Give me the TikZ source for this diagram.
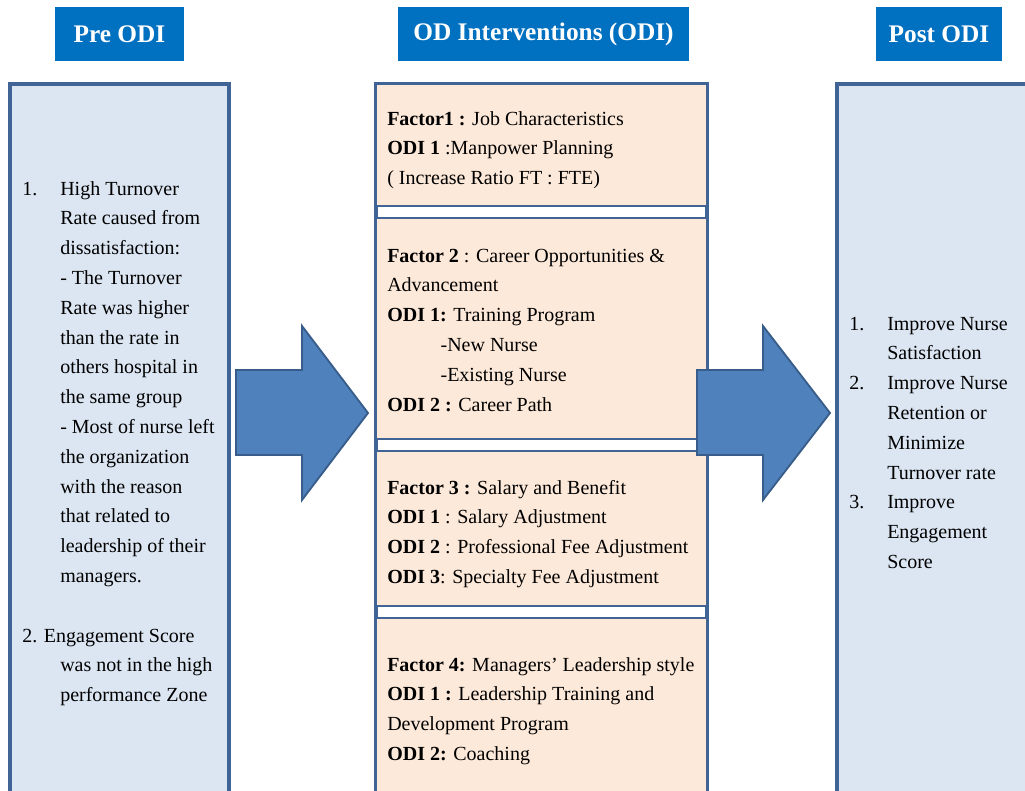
\documentclass[tikz,border=0pt]{standalone}
\usepackage{fontspec}
\setmainfont{Liberation Serif}
\usetikzlibrary{positioning}
\definecolor{headblue}{RGB}{0, 112, 192}
\definecolor{paleblue}{RGB}{220, 230, 242}
\definecolor{edgeblue}{RGB}{65, 100, 150}
\definecolor{peach}{RGB}{253, 233, 217}
\definecolor{arrowblue}{RGB}{79, 129, 189}
\definecolor{arrowedge}{RGB}{56, 93, 138}
\newcommand{\numbox}[1]{\makebox[28.5pt][l]{#1}}
\newcommand{\listpad}{\hspace*{28.5pt}}

\begin{document}
\begin{tikzpicture}[
    x=0.75pt, y=-0.75pt,
    header/.style={rectangle, fill=headblue, text=white, minimum height=40.5pt, inner sep=0pt, font=\fontsize{19}{22}\selectfont\bfseries},
    column/.style={draw=edgeblue, line width=2.3pt},
    factor/.style={draw=edgeblue, line width=2pt, fill=peach},
    bodytext/.style={anchor=north west, inner sep=0pt, align=left, font=\fontsize{15}{22.35}\selectfont},
    bigarrow/.style={fill=arrowblue, draw=arrowedge, line width=1.4pt, line join=miter}
]
\useasboundingbox (0,0) rectangle (1025,791);
\clip (0,0) rectangle (1025,791);

% Headers
\node (pre) [header, minimum width=96.75pt] at (119.5,34) {Pre ODI};
\node (odi) [header, minimum width=218.25pt] at (543.5,34) {OD Interventions (ODI)};
\node (post) [header, minimum width=94.5pt] at (939,34) {Post ODI};

% Columns
\draw [column, fill=paleblue] (10,84) rectangle (229,810);
\draw [column, fill=white] (376,84) rectangle (707,810);
\draw [column, fill=paleblue] (837,84) rectangle (1040,810);

% Factor boxes
\draw [factor] (376,84) rectangle (707,206);
\draw [factor] (376,218) rectangle (707,439);
\draw [factor] (376,451) rectangle (707,606);
\draw [factor] (376,618) rectangle (707,810);

% Pre ODI
\node (pretext) [bodytext] at (22,174) {\strut\numbox{1.}High Turnover\\
\listpad Rate caused from\\
\listpad dissatisfaction:\\
\listpad - The Turnover\\
\listpad Rate was higher\\
\listpad than the rate in\\
\listpad others hospital in\\
\listpad the same group\\
\listpad - Most of nurse left\\
\listpad the organization\\
\listpad with the reason\\
\listpad that related to\\
\listpad leadership of their\\
\listpad managers.\\[22.35pt]
2. Engagement Score\\
\listpad was not in the high\\
\listpad performance Zone};

% Interventions
\node (factor1) [bodytext] at (387,104) {\strut\textbf{Factor1 :} Job Characteristics\\
\textbf{ODI 1} :Manpower Planning\\
( Increase Ratio FT : FTE)};
\node (factor2) [bodytext] at (387,241) {\strut\textbf{Factor 2} : Career Opportunities \&\\
Advancement\\
\textbf{ODI 1:} Training Program\\
\hspace*{40pt}-New Nurse\\
\hspace*{40pt}-Existing Nurse\\
\textbf{ODI 2 :} Career Path};
\node (factor3) [bodytext] at (387,473) {\strut\textbf{Factor 3 :} Salary and Benefit\\
\textbf{ODI 1} : Salary Adjustment\\
\textbf{ODI 2} : Professional Fee Adjustment\\
\textbf{ODI 3}: Specialty Fee Adjustment};
\node (factor4) [bodytext] at (387,650) {\strut\textbf{Factor 4:} Managers' Leadership style\\
\textbf{ODI 1 :} Leadership Training and\\
Development Program\\
\textbf{ODI 2:} Coaching};

% Post ODI
\node (posttext) [bodytext] at (849,309) {\strut\numbox{1.}Improve Nurse\\
\listpad Satisfaction\\
\numbox{2.}Improve Nurse\\
\listpad Retention or\\
\listpad Minimize\\
\listpad Turnover rate\\
\numbox{3.}Improve\\
\listpad Engagement\\
\listpad Score};

% Arrows
\draw [bigarrow] (236,370) -- (302,370) -- (302,326) -- (368,413) -- (302,500) -- (302,455) -- (236,455) -- cycle;
\draw [bigarrow] (697,370) -- (763,370) -- (763,326) -- (830,413) -- (763,500) -- (763,455) -- (697,455) -- cycle;

\end{tikzpicture}
\end{document}
